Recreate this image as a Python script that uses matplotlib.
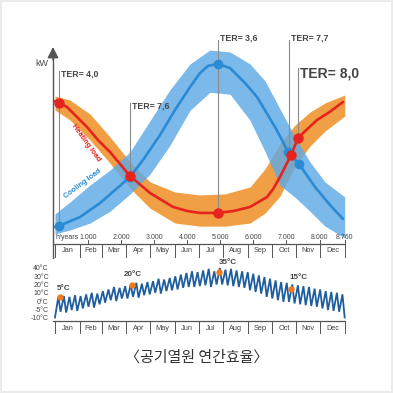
import matplotlib
matplotlib.use('Agg')
import matplotlib.pyplot as plt
from matplotlib.patches import Rectangle

# ---------------- data ----------------
months = ['Jan', 'Feb', 'Mar', 'Apr', 'May', 'Jun', 'Jul', 'Aug', 'Sep', 'Oct', 'Nov', 'Dec']
month_edges = [0, 744, 1416, 2160, 2880, 3624, 4344, 5088, 5832, 6552, 7296, 8016, 8760]
hour_ticks = [1000, 2000, 3000, 4000, 5000, 6000, 7000, 8000, 8760]
hour_labels = ['1.000', '2.000', '3.000', '4.000', '5.000', '6.000', '7.000', '8.000', '8.760']

heat_h = [0, 121, 363, 968, 1300, 1664, 2268, 2873, 3569, 4000, 4385, 4929, 5400, 5897, 6411, 6600, 6804, 7137, 7349, 7600, 7923, 8300, 8709]
heat_kw = [73.7, 72.7, 70.6, 60.3, 53.6, 47.4, 35.1, 26.3, 19.1, 17.0, 16.0, 16.0, 17.0, 19.1, 24.2, 28.4, 34.5, 45.9, 54.6, 58.8, 63.9, 68.0, 73.2]

cool_h = [0, 121, 756, 1361, 1815, 2268, 2661, 3176, 3629, 4083, 4385, 4627, 4929, 5292, 5746, 6109, 6653, 6865, 7046, 7379, 7863, 8316, 8709]
cool_kw = [8.8, 9.3, 13.9, 21.1, 27.8, 34.5, 43.3, 56.2, 69.1, 80.9, 88.1, 91.8, 92.8, 90.7, 83.0, 75.8, 60.3, 53.6, 47.4, 41.2, 29.4, 20.1, 12.9]

orange_h = [0, 454, 1059, 1664, 2268, 2873, 3629, 4385, 5141, 5897, 6351, 6804, 7258, 7711, 8165, 8760]
orange_hi = [76.3, 74.2, 67.0, 55.2, 42.3, 32.0, 26.8, 25.3, 25.8, 29.4, 38.7, 51.6, 61.3, 68.0, 72.7, 76.8]
orange_lo = [69.1, 63.9, 53.6, 41.7, 28.8, 18.5, 10.8, 9.2, 9.2, 10.8, 15.9, 24.7, 40.1, 50.5, 58.2, 65.9]

blue_h = [0, 454, 1059, 1664, 2268, 2873, 3478, 4083, 4687, 5292, 5897, 6351, 6804, 7258, 7711, 8165, 8760]
blue_hi = [15.5, 21.7, 30.4, 38.1, 47.5, 63.5, 79.5, 92.8, 100.0, 99.0, 92.8, 84.1, 69.6, 55.2, 42.3, 32.0, 24.3]
blue_lo = [5.2, 7.2, 10.8, 16.9, 25.7, 36.0, 50.9, 68.9, 78.2, 77.2, 63.8, 47.7, 30.3, 24.1, 16.9, 9.2, 3.1]

heat_dot_h = [121, 2268, 4929, 7137, 7349]
heat_dot_kw = [72.7, 35.1, 16.0, 45.9, 54.6]
cool_dot_h = [121, 2268, 4929, 7046, 7379]
cool_dot_kw = [9.3, 34.5, 92.8, 47.4, 41.2]

ter_labels = ['TER= 4,0', 'TER= 7,6', 'TER= 3,6', 'TER= 7,7', 'TER= 8,0']
ter_h = [121, 2268, 4929, 7076, 7349]
ter_top = [89.2, 72.7, 107.2, 107.2, 90.7]
ter_bottom = [9.3, 35.1, 16.0, 45.9, 54.6]
ter_label_kw = [87.6, 71.1, 106.1, 106.1, 88.1]
ter_size = [6.3, 6.3, 6.3, 6.3, 10]

week_highs = [5, 6, 5, 7, 6, 8, 10, 9, 12, 14, 17, 16, 18, 20, 22, 21, 23, 24, 27, 26, 28, 30,
              32, 34, 36, 35, 37, 39, 36, 40, 38, 39, 37, 36, 35, 33, 31, 29, 27, 25, 23, 22, 20,
              19, 18, 17, 15, 14, 12, 11, 10, 8]
week_lows = [-20, -13, -14, -11, -12, -9, -7, -8, -4, -2, 1, 0, 3, 3, 5, 4, 7, 8, 10, 9, 12, 13,
             14, 16, 17, 17, 18, 19, 17, 20, 20, 19, 18, 17, 16, 13, 11, 9, 5, 3, 1, -1, -1,
             -3, -4, -5, -6, -7, -9, -11, -12, -13, -20]
temp_mark_h = [150, 2327, 4955, 7130]
temp_mark_c = [5, 20, 35, 15]
temp_ticks = [40, 30, 20, 10, 0, -10, -20]
temp_tick_labels = ['40°C', '30°C', '20°C', '10°C', '0°C', '-5°C', '-10°C']

# ---------------- style ----------------
FONT = ['Liberation Sans Narrow', 'Liberation Sans', 'DejaVu Sans']
plt.rcParams['font.family'] = FONT
GRAY = '#555555'
LGRAY = '#8a8a8a'
TXT = '#444444'
RED = '#e6231c'
BLUE = '#2a8ad4'
ORANGE = '#f0922a'
LBLUE = '#5eaae6'

W = 393.0
fig = plt.figure(figsize=(3.93, 3.93), dpi=100)
fig.patch.set_facecolor('white')


def fx(px):
    return px / W


def fy(py):
    return 1 - py / W


XMIN, XMAX = -60, 8800

# ---------------- main panel ----------------
ax = fig.add_axes([fx(53), fy(244), (346 - 53) / W, (244 - 40) / W])
PXK = 1.94  # px per kW unit
ax.set_xlim(XMIN, XMAX)
ax.set_ylim(0, 204 / PXK)
ax.axis('off')

ax.fill_between(orange_h, orange_lo, orange_hi, color=ORANGE, alpha=0.88, lw=0, zorder=1)
ax.fill_between(blue_h, blue_lo, blue_hi, color=LBLUE, alpha=0.82, lw=0, zorder=2)

for h, t, b in zip(ter_h, ter_top, ter_bottom):
    ax.plot([h, h], [b, t], color=LGRAY, lw=0.8, zorder=3)
for lab, h, yk, s in zip(ter_labels, ter_h, ter_label_kw, ter_size):
    ax.text(h + 75, yk, lab, fontsize=s, color=TXT, ha='left', va='center',
            fontweight='bold', zorder=6)

ax.plot(cool_h, cool_kw, color=BLUE, lw=1.9, zorder=4, solid_capstyle='round')
ax.plot(heat_h, heat_kw, color=RED, lw=1.9, zorder=4.5, solid_capstyle='round')
ax.plot(cool_dot_h, cool_dot_kw, 'o', color=BLUE, ms=7, mec='none', zorder=5)
ax.plot(heat_dot_h, heat_dot_kw, 'o', color=RED, ms=7.5, mec='none', zorder=5.5)

ax.text(930, 52, 'Heating load', color=RED, fontsize=5.3, fontweight='bold',
        rotation=-54, ha='center', va='center', zorder=6)
ax.text(830, 31, 'Cooling load', color=BLUE, fontsize=5.3, fontweight='bold',
        rotation=37, ha='center', va='center', zorder=6)

# x axis line, ticks, labels
ax.plot([XMIN, 8760], [0, 0], color=GRAY, lw=0.9, clip_on=False, zorder=6)
for h, lab in zip(hour_ticks, hour_labels):
    ax.plot([h, h], [0, 2.0], color=GRAY, lw=0.7, clip_on=False, zorder=6)
    ax.text(h, 3.4, lab, fontsize=5, color=TXT, ha='center', va='center', zorder=6)
ax.text(30, 3.4, 'h/years', fontsize=5, color=TXT, ha='left', va='center', zorder=6)
for e in month_edges:
    ax.plot([e, e], [0, -13 / PXK], color=GRAY, lw=0.7, clip_on=False)
for i, m in enumerate(months):
    ax.text((month_edges[i] + month_edges[i + 1]) / 2, -7 / PXK, m, fontsize=5.3,
            color=TXT, ha='center', va='center')

# y axis arrow and label
fig.add_artist(plt.Line2D([fx(53), fx(53)], [fy(258), fy(56)], color=GRAY, lw=1.0))
ax.annotate('', xy=(fx(53), fy(47)), xytext=(fx(53), fy(60)),
            xycoords='figure fraction', textcoords='figure fraction',
            arrowprops=dict(arrowstyle='-|>,head_length=0.55,head_width=0.28',
                            color=GRAY, lw=1.0, mutation_scale=12, shrinkA=0, shrinkB=0))
fig.text(fx(42), fy(63), 'kW', fontsize=6.5, color=TXT, ha='center', va='center')

# ---------------- temperature panel ----------------
ax2 = fig.add_axes([fx(53), fy(321), (346 - 53) / W, (321 - 262) / W])
PXC = 0.825  # px per degree
ax2.set_xlim(XMIN, XMAX)
ax2.set_ylim(-20 / PXC, 40 + 6 / PXC)
for s in ax2.spines.values():
    s.set_visible(False)
ax2.set_xticks([])
ax2.set_yticks(temp_ticks)
ax2.set_yticklabels(temp_tick_labels)
ax2.tick_params(axis='y', length=0, pad=3, labelsize=5, labelcolor=TXT)
ax2.patch.set_alpha(0)

n = len(week_highs)
tx, ty = [], []
for i in range(n):
    tx.append(i * 8760 / n)
    ty.append(week_lows[i])
    tx.append((i + 0.6) * 8760 / n)
    ty.append(week_highs[i])
tx.append(8760)
ty.append(week_lows[n])
ax2.plot(tx, ty, color='#1f5e9e', lw=1.3, zorder=3, solid_joinstyle='miter')

ax2.plot(temp_mark_h, temp_mark_c, 'o', color='#f07a1f', ms=4.6, mec='none', zorder=4)
offs = [(-2, 6), (-6, 7.5), (0, 7), (-1, 8)]
for h, c, (dx, dy) in zip(temp_mark_h, temp_mark_c, offs):
    ax2.annotate(f'{c}°C', (h, c), xytext=(dx, dy), textcoords='offset points',
                 fontsize=5.8, fontweight='bold', color=TXT, ha='left', va='center', zorder=5)

ax2.plot([XMIN, 8760], [-20 / PXC, -20 / PXC], color=GRAY, lw=0.9, clip_on=False)
for e in month_edges:
    ax2.plot([e, e], [-20 / PXC, -32 / PXC], color=GRAY, lw=0.7, clip_on=False)
for i, m in enumerate(months):
    ax2.text((month_edges[i] + month_edges[i + 1]) / 2, -28 / PXC, m, fontsize=5.3,
             color=TXT, ha='center', va='center')

# ---------------- title and frame ----------------
fig.text(0.5, fy(358), '〈공기열원 연간효율〉', fontsize=10.8, color='#333333',
         ha='center', va='center', family=['Noto Sans CJK KR', 'DejaVu Sans'])
fig.add_artist(Rectangle((0.002, 0.002), 0.996, 0.996, transform=fig.transFigure,
                         fill=False, edgecolor='#ebebeb', lw=1.4))

fig.savefig('out.png', dpi=100, facecolor='white')
